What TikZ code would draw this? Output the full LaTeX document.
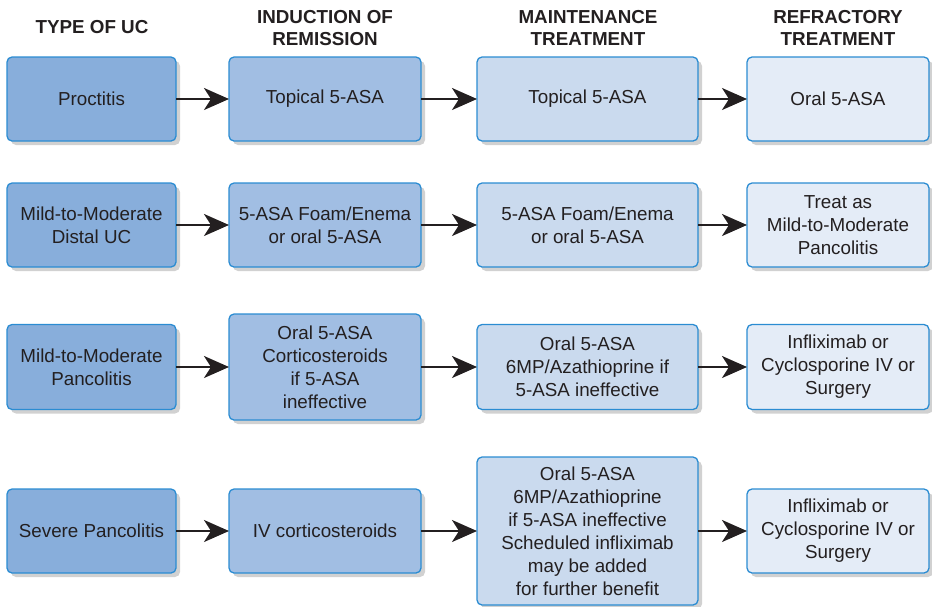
\documentclass[tikz,border=0pt]{standalone}
\usepackage{fontspec}
\setmainfont{Liberation Sans}
\usetikzlibrary{arrows.meta,shadows}

\definecolor{edgeblue}{HTML}{2B8CD2}
\definecolor{fillA}{HTML}{88AEDB}
\definecolor{fillB}{HTML}{A1BEE3}
\definecolor{fillC}{HTML}{CADAEE}
\definecolor{fillD}{HTML}{E4ECF7}
\definecolor{inkgray}{HTML}{231F20}

\begin{document}
\begin{tikzpicture}[x=1pt, y=-1pt, >=Stealth,
    box/.style={draw=edgeblue, line width=1.3pt, rounded corners=5pt,
      align=center, text=inkgray, inner sep=2pt, outer sep=0pt,
      font=\fontsize{18.8}{23}\selectfont,
      drop shadow={shadow xshift=4pt, shadow yshift=-4pt, opacity=0.3, fill=black!60}},
    head/.style={align=center, text=inkgray, font=\fontsize{18.8}{22}\selectfont\bfseries},
    flow/.style={line width=2.2pt, draw=inkgray,
      arrows={-Stealth[length=25pt, width=22pt, inset=7pt]}}]
    \useasboundingbox (0,0) rectangle (932,606);

    \node[head] (h1) at (92,27) {TYPE OF UC};
    \node[head] (h2) at (325,28) {INDUCTION OF\\REMISSION};
    \node[head] (h3) at (588,28) {MAINTENANCE\\TREATMENT};
    \node[head] (h4) at (838,28) {REFRACTORY\\TREATMENT};

    % row 1
    \node[box, fill=fillA, minimum width=169pt, minimum height=84pt] (p1) at (91.5,99) {Proctitis};
    \node[box, fill=fillB, minimum width=192pt, minimum height=84pt] (p2) at (325,99) {Topical 5-ASA};
    \node[box, fill=fillC, minimum width=221pt, minimum height=84pt] (p3) at (587.5,99) {Topical 5-ASA};
    \node[box, fill=fillD, minimum width=182pt, minimum height=84pt] (p4) at (838,99) {Oral 5-ASA};

    % row 2
    \node[box, fill=fillA, minimum width=169pt, minimum height=84pt] (d1) at (91.5,225) {Mild-to-Moderate\\Distal UC};
    \node[box, fill=fillB, minimum width=192pt, minimum height=84pt] (d2) at (325,225) {5-ASA Foam/Enema\\or oral 5-ASA};
    \node[box, fill=fillC, minimum width=221pt, minimum height=84pt] (d3) at (587.5,225) {5-ASA Foam/Enema\\or oral 5-ASA};
    \node[box, fill=fillD, minimum width=182pt, minimum height=84pt] (d4) at (838,225) {Treat as\\Mild-to-Moderate\\Pancolitis};

    % row 3
    \node[box, fill=fillA, minimum width=169pt, minimum height=85pt] (m1) at (91.5,367) {Mild-to-Moderate\\Pancolitis};
    \node[box, fill=fillB, minimum width=192pt, minimum height=106pt] (m2) at (325,367) {Oral 5-ASA\\Corticosteroids\\if 5-ASA\\ineffective};
    \node[box, fill=fillC, minimum width=221pt, minimum height=85pt] (m3) at (587.5,367) {Oral 5-ASA\\6MP/Azathioprine if\\5-ASA ineffective};
    \node[box, fill=fillD, minimum width=182pt, minimum height=85pt] (m4) at (838,367) {Infliximab or\\Cyclosporine IV or\\Surgery};

    % row 4
    \node[box, fill=fillA, minimum width=169pt, minimum height=84pt] (s1) at (91.5,531) {Severe Pancolitis};
    \node[box, fill=fillB, minimum width=192pt, minimum height=84pt] (s2) at (325,531) {IV corticosteroids};
    \node[box, fill=fillC, minimum width=221pt, minimum height=148pt] (s3) at (587.5,531) {Oral 5-ASA\\6MP/Azathioprine\\if 5-ASA ineffective\\Scheduled infliximab\\may be added\\for further benefit};
    \node[box, fill=fillD, minimum width=182pt, minimum height=84pt] (s4) at (838,531) {Infliximab or\\Cyclosporine IV or\\Surgery};

    \foreach \r in {p,d,m,s} {
      \draw[flow] (\r1) -- (\r2);
      \draw[flow] (\r2) -- (\r3);
      \draw[flow] (\r3) -- (\r4);
    }
\end{tikzpicture}
\end{document}
